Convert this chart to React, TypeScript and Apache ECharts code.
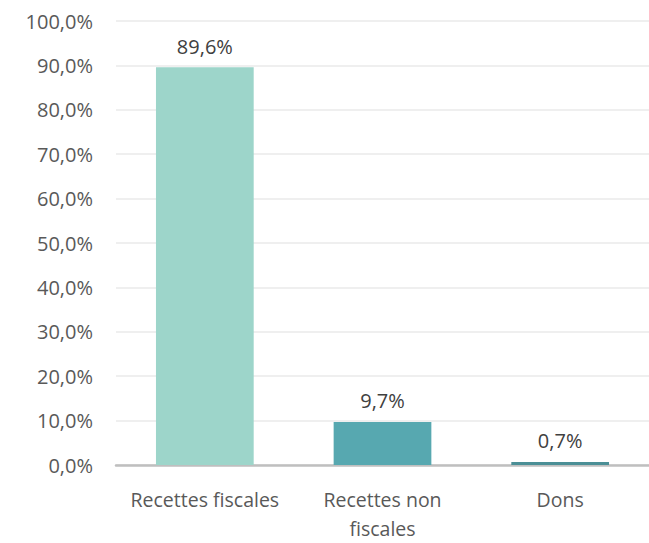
import React, { useEffect, useRef } from "react";
import * as echarts from "echarts";

const categories = ["Recettes fiscales", "Recettes non\nfiscales", "Dons"];
const values = [89.6, 9.7, 0.7];
const barColors = ["#9dd5ca", "#57a8b0", "#4b8f96"];

const fmt = (v: number) => v.toFixed(1).replace(".", ",") + "%";

export default function App() {
  const ref = useRef<HTMLDivElement>(null);
  useEffect(() => {
    if (!ref.current) return;
    const chart = echarts.init(ref.current, null, { renderer: "svg" });
    const font = "'Open Sans', 'Noto Sans', sans-serif";
    chart.setOption({
      animation: false,
      grid: { left: 116, top: 21, width: 550, height: 453 },
      xAxis: {
        type: "category",
        data: categories,
        axisLine: { show: true, lineStyle: { color: "#bfbfbf", width: 2.5 } },
        axisTick: { show: false },
        axisLabel: {
          color: "#595959",
          fontSize: 19.5,
          fontFamily: font,
          margin: 20,
          lineHeight: 29,
          interval: 0,
        },
      },
      yAxis: {
        type: "value",
        min: 0,
        max: 100,
        interval: 10,
        axisLine: { show: false },
        axisTick: { show: false },
        splitLine: { lineStyle: { color: "#efefef", width: 2 } },
        axisLabel: {
          color: "#595959",
          fontSize: 20,
          fontFamily: font,
          margin: 23,
          formatter: (v: number) => fmt(v),
        },
      },
      series: [
        {
          type: "bar",
          barWidth: "55%",
          data: values.map((v, i) => ({ value: v, itemStyle: { color: barColors[i] } })),
          label: {
            show: true,
            position: "top",
            distance: 11,
            color: "#404040",
            fontSize: 20,
            fontFamily: font,
            formatter: (p: any) => fmt(p.value),
          },
        },
      ],
    });
    return () => chart.dispose();
  }, []);
  return (
    <div
      ref={ref}
      style={{ position: "fixed", left: 0, top: 0, width: 649, height: 543, background: "#fff" }}
    />
  );
}
